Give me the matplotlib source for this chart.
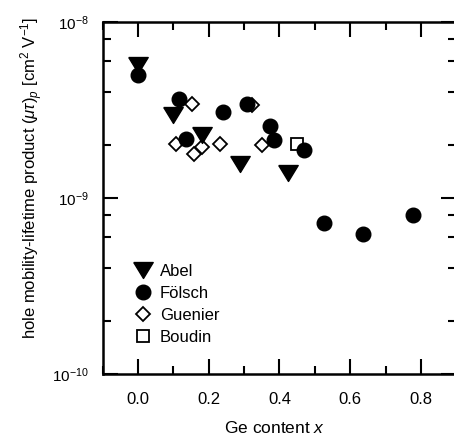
import matplotlib
matplotlib.use("Agg")
import matplotlib.pyplot as plt
from matplotlib.ticker import LogLocator, NullFormatter, MultipleLocator

plt.rcParams['font.family'] = ['Liberation Sans', 'DejaVu Sans']
plt.rcParams['mathtext.fontset'] = 'custom'
plt.rcParams['mathtext.rm'] = 'Liberation Sans'
plt.rcParams['mathtext.it'] = 'Liberation Sans:italic'
plt.rcParams['mathtext.bf'] = 'Liberation Sans:bold'

# ---- data ----
abel_x = [0.0, 0.099, 0.18, 0.288, 0.423]
abel_y = [5.7e-9, 2.96e-9, 2.28e-9, 1.56e-9, 1.38e-9]

foelsch_x = [0.0, 0.115, 0.135, 0.241, 0.307, 0.373, 0.385, 0.47, 0.527, 0.636, 0.776]
foelsch_y = [5.0e-9, 3.65e-9, 2.16e-9, 3.1e-9, 3.4e-9, 2.57e-9, 2.14e-9, 1.87e-9,
             7.2e-10, 6.27e-10, 7.97e-10]

guenier_x = [0.153, 0.109, 0.159, 0.182, 0.231, 0.321, 0.35]
guenier_y = [3.41e-9, 2.02e-9, 1.77e-9, 1.96e-9, 2.02e-9, 3.38e-9, 2.0e-9]

boudin_x = [0.45]
boudin_y = [2.02e-9]

# flattened down-triangle
tri = [(-1, 0.82), (1, 0.82), (0, -0.82), (-1, 0.82)]

fig = plt.figure(figsize=(4.54, 4.37), dpi=100)
ax = fig.add_axes([0.2258, 0.1442, 0.7795, 0.8055])

ax.plot(guenier_x, guenier_y, ls='none', marker='D', ms=7.6, mfc='white',
        mec='black', mew=1.3, label='Guenier', zorder=2)
ax.plot(boudin_x, boudin_y, ls='none', marker='s', ms=8.6, mfc='white',
        mec='black', mew=1.3, label='Boudin', zorder=2)
ax.plot(abel_x, abel_y, ls='none', marker=tri, ms=14, mfc='black',
        mec='black', mew=1, label='Abel', zorder=3)
ax.plot(foelsch_x, foelsch_y, ls='none', marker='o', ms=10.5, mfc='black',
        mec='black', mew=1, label='Fölsch', zorder=4)

ax.set_yscale('log')
ax.set_xlim(-0.1, 0.9)
ax.set_ylim(1e-10, 1e-8)

ax.xaxis.set_major_locator(MultipleLocator(0.2))
ax.xaxis.set_minor_locator(MultipleLocator(0.1))
ax.yaxis.set_major_locator(LogLocator(base=10))
ax.yaxis.set_minor_locator(LogLocator(base=10, subs=[2, 4, 6, 8]))
ax.yaxis.set_minor_formatter(NullFormatter())

ax.tick_params(which='both', direction='in', top=True, right=True, width=1.5)
ax.tick_params(which='major', length=10.5)
ax.tick_params(which='minor', length=5.5)
ax.tick_params(axis='x', which='major', pad=13, labelsize=12)
ax.tick_params(axis='y', which='major', pad=10, labelsize=11)
for s in ax.spines.values():
    s.set_linewidth(1.8)

ax.set_xlabel('Ge content $x$', fontsize=12.5, va='center')
ax.xaxis.set_label_coords(0.487, -0.153)
ax.set_ylabel(r'hole mobility-lifetime product $(\mu\tau)_p$ [cm$^2$ V$^{-1}$]',
              fontsize=12, va='center')
ax.yaxis.set_label_coords(-0.199, 0.557)

h, l = ax.get_legend_handles_labels()
order = [2, 3, 0, 1]
ax.legend([h[i] for i in order], [l[i] for i in order], loc='upper left',
          bbox_to_anchor=(0.092, 0.312), frameon=False, fontsize=12,
          handlelength=1.0, handletextpad=0.5, labelspacing=0.42,
          borderaxespad=0, borderpad=0)

fig.savefig('out.png', dpi=100)
